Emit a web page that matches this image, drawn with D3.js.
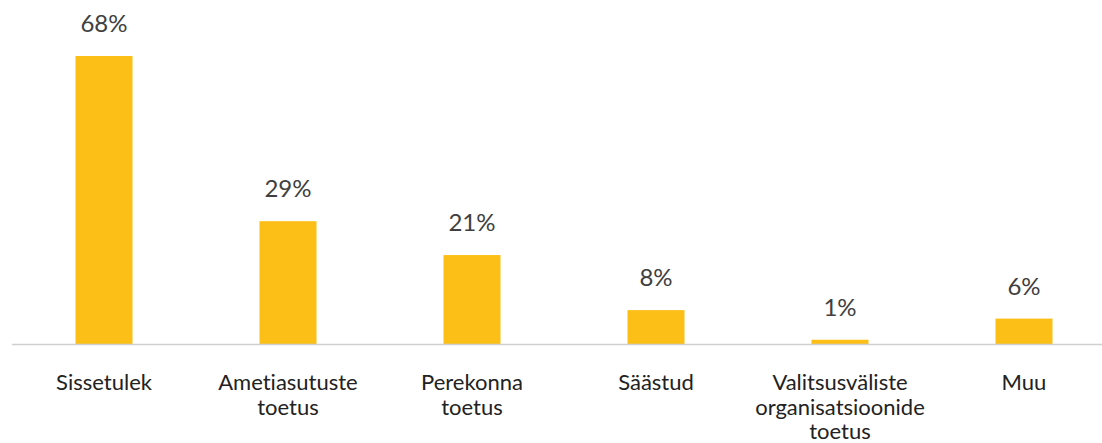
<!DOCTYPE html>
<html>
<head>
<meta charset="utf-8">
<script src="https://cdn.jsdelivr.net/npm/d3@7"></script>
<style>
  body { margin: 0; background: #fff; }
  svg { display: block; }
  text { font-variant-ligatures: none; }
</style>
</head>
<body>
<div id="chart"></div>
<script>
// data
var categories = ["Sissetulek", "Ametiasutuste toetus", "Perekonna toetus", "Säästud", "Valitsusväliste organisatsioonide toetus", "Muu"];
var labelLines = [["Sissetulek"], ["Ametiasutuste", "toetus"], ["Perekonna", "toetus"], ["Säästud"], ["Valitsusväliste", "organisatsioonide", "toetus"], ["Muu"]];
var values = [68, 29, 21, 8, 1, 6];

var W = 1102, H = 443;
var baseY = 344;

var svg = d3.select("#chart").append("svg")
    .attr("width", W)
    .attr("height", H);

var x = d3.scaleBand()
    .domain(categories)
    .range([12, 12 + 6 * 184])
    .paddingInner(0.69)
    .paddingOuter(0.345);

var y = d3.scaleLinear()
    .domain([0, 68])
    .range([baseY, 56]);

// bars
svg.selectAll("rect.bar")
    .data(values)
    .enter()
    .append("rect")
    .attr("class", "bar")
    .attr("x", function(d, i) { return x(categories[i]); })
    .attr("y", function(d) { return y(d); })
    .attr("width", x.bandwidth())
    .attr("height", function(d) { return baseY - y(d); })
    .style("fill", "#FCBF17");

// axis line
svg.append("line")
    .attr("x1", 12).attr("x2", W)
    .attr("y1", baseY + 0.5).attr("y2", baseY + 0.5)
    .style("stroke", "#d0d0d0")
    .style("stroke-width", 1.5);

// value labels
svg.selectAll("text.val")
    .data(values)
    .enter()
    .append("text")
    .attr("class", "val")
    .attr("x", function(d, i) { return x(categories[i]) + x.bandwidth() / 2; })
    .attr("y", function(d) { return y(d) - 24; })
    .attr("text-anchor", "middle")
    .style("font-family", "Lato, 'Open Sans', sans-serif")
    .style("font-size", "24px")
    .style("fill", "#404040")
    .text(function(d) { return d + "%"; });

// category labels
var cat = svg.selectAll("text.cat")
    .data(labelLines)
    .enter()
    .append("text")
    .attr("class", "cat")
    .attr("text-anchor", "middle")
    .style("font-family", "Lato, 'Open Sans', sans-serif")
    .style("font-size", "22px")
    .style("fill", "#222");

cat.selectAll("tspan")
    .data(function(d, i) { return d.map(function(s) { return { s: s, i: i }; }); })
    .enter()
    .append("tspan")
    .attr("x", function(d) { return x(categories[d.i]) + x.bandwidth() / 2; })
    .attr("y", function(d, j) { return 390 + j * 24.5; })
    .text(function(d) { return d.s; });
</script>
</body>
</html>
